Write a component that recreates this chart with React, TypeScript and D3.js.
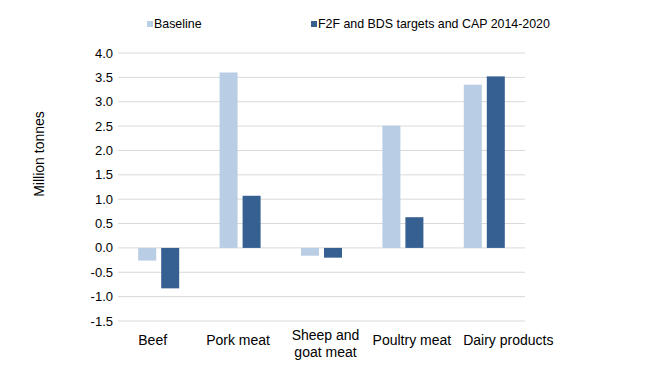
import React from "react";
import * as d3 from "d3";

const categories = ["Beef", "Pork meat", "Sheep and\ngoat meat", "Poultry meat", "Dairy products"];
const seriesNames = ["Baseline", "F2F and BDS targets and CAP 2014-2020"];
const baseline = [-0.26, 3.6, -0.16, 2.51, 3.35];
const f2f = [-0.83, 1.07, -0.2, 0.63, 3.52];
const yTicks = [-1.5, -1.0, -0.5, 0.0, 0.5, 1.0, 1.5, 2.0, 2.5, 3.0, 3.5, 4.0];
const colors = ["#b9cde5", "#366092"];
// labels in the original are nudged sideways from the bar groups
const labelShift = [-6, -2, 4, 9, 24];

export default function App() {
  const width = 650, height = 366;
  const left = 118, right = 525, top = 53, bottom = 321;

  const x = d3.scaleBand().domain(categories).range([left, right]);
  const y = d3.scaleLinear().domain([-1.5, 4.0]).range([bottom, top]);
  const barW = 18, gap = 5;
  const series = [baseline, f2f];

  return (
    <svg width={width} height={height} style={{ position: "absolute", left: 0, top: 0, fontFamily: "'Liberation Sans', Arial, sans-serif" }}>
      <rect width={width} height={height} fill="#fff" />
      {yTicks.map(t => (
        <g key={t}>
          <line x1={left} x2={right} y1={y(t)} y2={y(t)} stroke="#d9d9d9" strokeWidth={1} />
          <text x={113} y={y(t)} dy="0.35em" textAnchor="end" fontSize={13} fill="#000">{t.toFixed(1)}</text>
        </g>
      ))}
      {categories.map((c, i) => {
        const cx = x(c)! + x.bandwidth() / 2;
        return (
          <g key={c}>
            {series.map((s, k) => {
              const v = s[i];
              const bx = k === 0 ? cx - gap / 2 - barW : cx + gap / 2;
              return (
                <rect key={k} x={bx} width={barW} y={Math.min(y(v), y(0))} height={Math.abs(y(v) - y(0))} fill={colors[k]} />
              );
            })}
            {c.split("\n").map((line, j, arr) => (
              <text key={j} x={cx + labelShift[i]} y={arr.length > 1 ? 340 + j * 17 : 345} textAnchor="middle" fontSize={14} fill="#000">{line}</text>
            ))}
          </g>
        );
      })}
      <text transform="translate(44,154) rotate(-90)" textAnchor="middle" fontSize={14} fill="#000">Million tonnes</text>
      {seriesNames.map((n, k) => {
        const lx = k === 0 ? 147 : 311;
        return (
          <g key={n}>
            <rect x={lx} y={21} width={6} height={6} fill={colors[k]} />
            <text x={lx + 7} y={28} fontSize={12.4} fill="#000">{n}</text>
          </g>
        );
      })}
    </svg>
  );
}
